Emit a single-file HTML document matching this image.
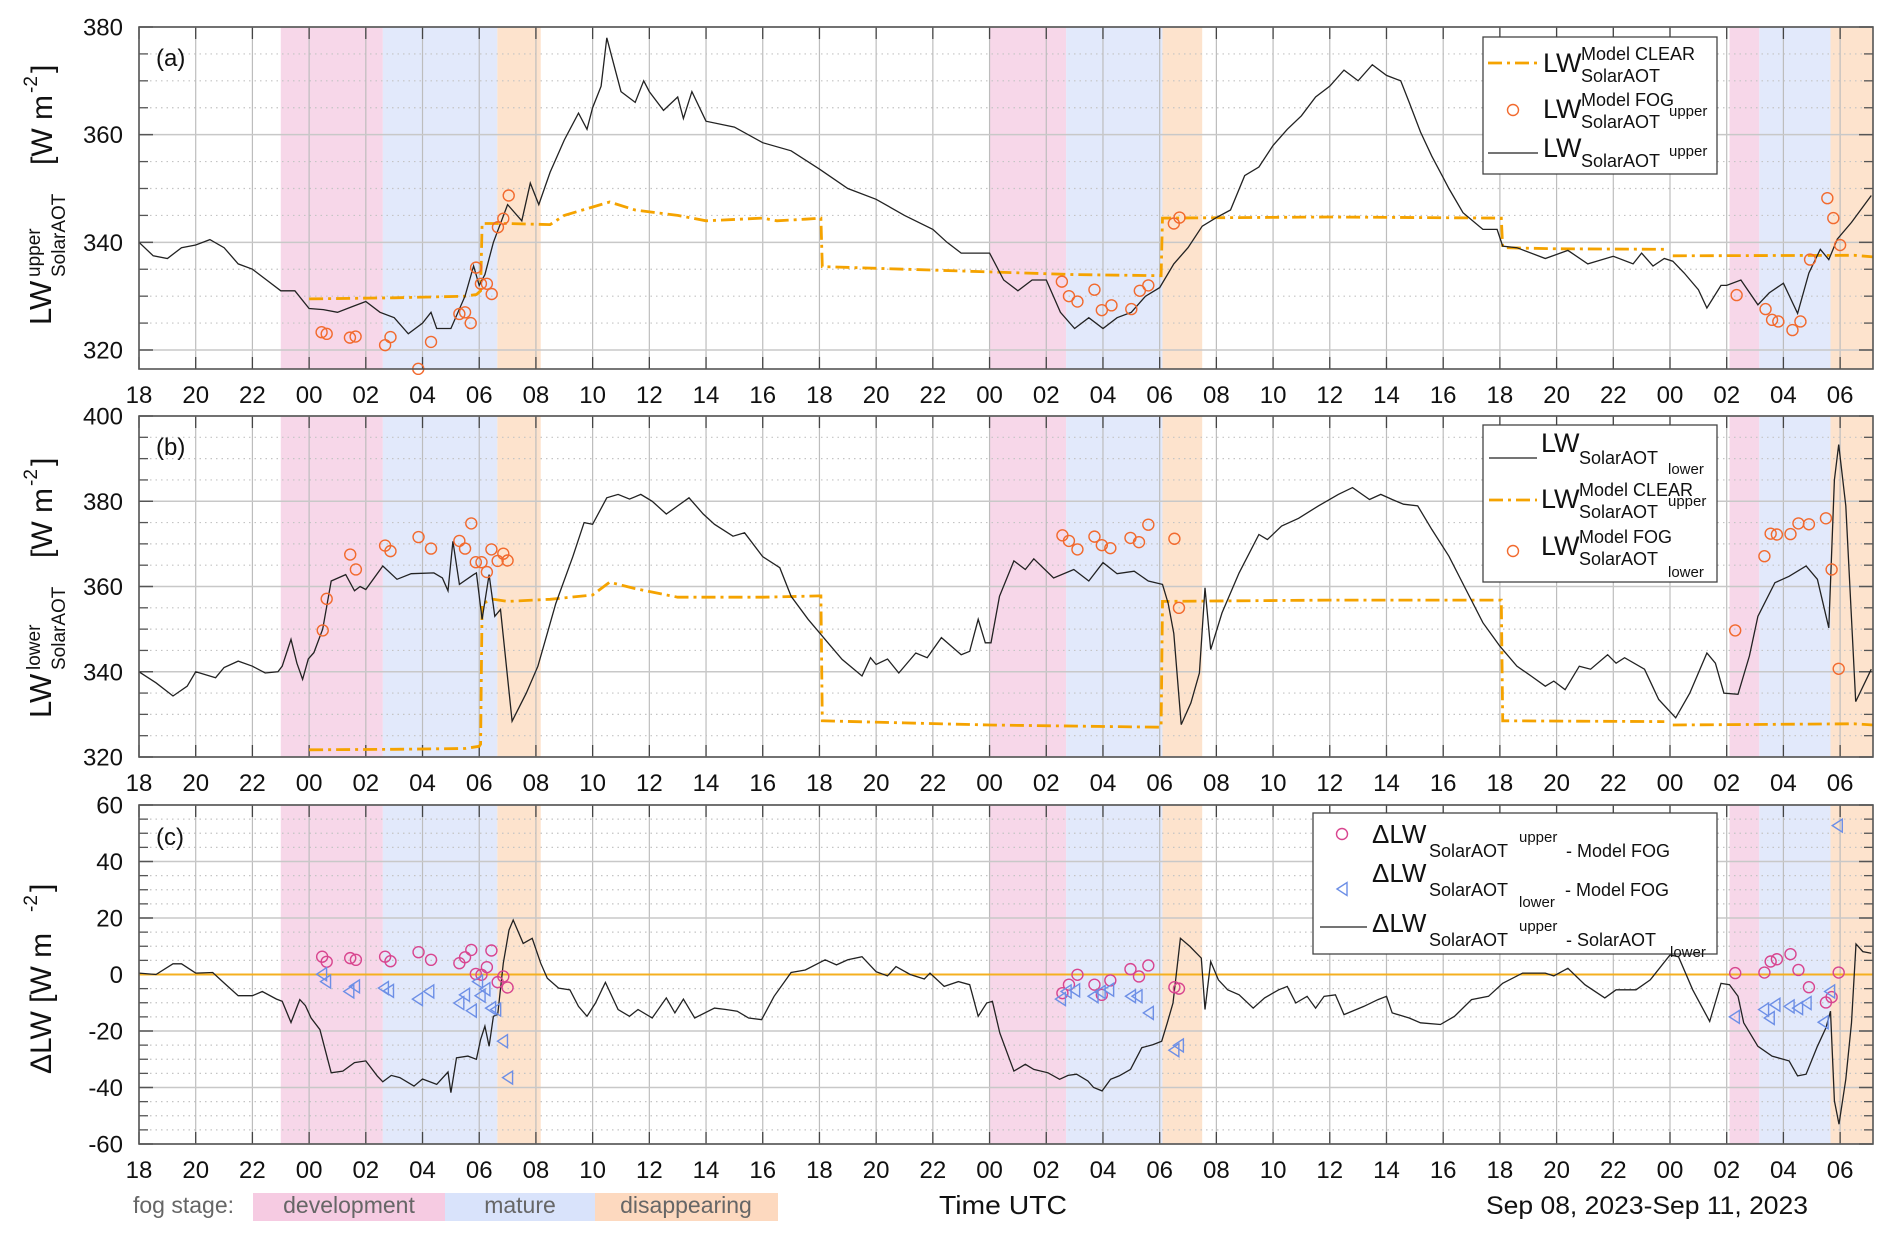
<!DOCTYPE html>
<html><head><meta charset="utf-8"><title>LW fog chart</title>
<style>
html,body{margin:0;padding:0;background:#fff;}
svg{display:block;font-family:"Liberation Sans",sans-serif;}
</style></head>
<body>
<svg id="chart" width="1892" height="1239" viewBox="0 0 1892 1239" xmlns="http://www.w3.org/2000/svg">
<rect x="0" y="0" width="1892" height="1239" fill="#fff"/>
</svg>
<script>
// ---- data (time in hours since 18:00 on Sep 08) ----
const stageStart = [5, 8.6, 12.64, 30, 32.7, 36.1, 56.1, 57.15, 59.66];
const stageEnd   = [8.6, 12.64, 14.17, 32.7, 36.1, 37.5, 57.15, 59.66, 61.16];
const stageType  = ['development','mature','disappearing','development','mature','disappearing','development','mature','disappearing'];
const xTickLabels = ['18','20','22','00','02','04','06','08','10','12','14','16','18','20','22','00','02','04','06','08','10','12','14','16','18','20','22','00','02','04','06'];

const aBlackT = [0,0.5,1,1.5,2,2.5,3,3.5,4,4.5,5,5.5,6,6.5,7,7.5,8,8.5,9,9.5,10,10.3,10.5,11,11.5,11.8,12,12.2,12.5,13,13.5,13.8,14.1,14.5,15,15.5,15.8,16,16.3,16.5,16.8,17,17.5,17.8,18,18.5,19,19.2,19.5,20,21,22,23,24,25,26,27,28,28.5,29,30,30.5,31,31.5,32,32.5,33,33.5,34,34.5,35,35.5,36,36.5,37,37.5,38,38.5,39,39.5,40,40.5,41,41.5,42,42.5,43,43.5,44,44.5,44.8,45.2,45.6,46,46.2,46.7,47.4,47.9,48.1,48.6,49.6,50.4,51.1,52,52.7,53,53.4,53.8,54.1,54.5,55,55.3,55.8,56,56.5,57.1,57.5,58,58.5,58.9,59.3,59.6,59.9,60.4,61.1];
const aBlackV = [340,337.5,337,339,339.5,340.5,339,336,335,333,331,331,327.7,327.5,327,328,329,327,326,323,325,327,324,324,330,335.6,332,334,340,347,344,351,347,353,359,364,361,365,369,378,372,368,366,370,368,364.5,367,363,368,362.5,361.4,358.5,357,353.6,350,348,345,342.4,340,338,338,333,331,333,333,327,324,326,324,326,327,330,331.6,336,339,343,344.6,346,352.4,354,358,361,363.5,367,369,372,370,373,371,370,366,360.5,356,352,350,345.5,342.4,342.4,339.3,339,337,338.5,336,337.4,336,338,335.6,337,336.5,334.3,331.2,327.8,332,332,333,328.4,330.6,332.4,326.8,334.3,338.7,336.8,340.6,343.7,348.7];
const aClearT = [6,9,11.5,11.9,12.05,12.1,13,14.5,15,16.6,17.5,19,20,22,22.5,23.5,24.05,24.1,27,30,33,36.05,36.1,42,48.05,48.1,50,53.8,53.9,54.1,60.5,61.16];
const aClearV = [329.5,329.7,330,330.3,331,343.5,343.5,343.3,345,347.5,346,345,344,344.5,344,344.3,344.5,335.5,335,334.5,334,333.8,344.5,344.7,344.5,339,338.8,338.7,NaN,337.5,337.6,337.3];
const aFogT = [6.44,6.62,7.44,7.64,8.68,8.87,9.85,10.3,11.3,11.5,11.7,11.89,12.06,12.27,12.44,12.66,12.85,13.04,32.55,32.8,33.1,33.7,33.96,34.3,35,35.3,35.6,36.5,36.7,56.35,57.37,57.6,57.82,58.32,58.6,58.94,59.55,59.76,60.0];
const aFogV = [323.3,323,322.3,322.5,320.9,322.4,316.5,321.5,326.7,327,325,335.3,332.3,332.3,330.4,342.8,344.4,348.7,332.7,330,329,331.2,327.4,328.3,327.6,331,332,343.5,344.6,330.2,327.6,325.6,325.3,323.7,325.3,336.8,348.2,344.5,339.5];

const bBlackT = [0,0.6,1.2,1.7,2,2.7,3,3.5,4,4.45,4.9,5.05,5.36,5.57,5.77,5.97,6.17,6.48,6.78,7.29,7.6,7.8,8,8.6,9.1,9.6,10.4,10.7,10.9,11.07,11.3,11.8,11.9,12.1,12.35,12.55,12.75,13.16,13.66,14.07,14.7,15.3,15.7,16,16.5,16.9,17.3,17.7,18.1,18.6,19,19.4,19.9,20.3,20.95,21.36,22,22.6,23,23.6,24.2,24.8,25.5,25.8,26,26.4,26.8,27.4,27.8,28.3,29,29.3,29.6,29.85,30.05,30.35,30.86,31.26,31.56,32.26,32.97,33.5,34,34.5,35.1,35.6,36.1,36.3,36.5,36.76,37.1,37.4,37.6,37.8,38.2,38.8,39.5,39.8,40.3,40.9,41.6,42.3,42.8,43.4,43.8,44.2,44.6,45.1,45.6,46.2,46.8,47.4,48,48.6,49.1,49.6,49.9,50.3,50.8,51.2,51.8,52.1,52.4,53.1,53.6,54.2,54.7,55.3,55.6,55.9,56.4,56.8,57.1,57.7,58.2,58.8,59.2,59.6,59.8,59.95,60.2,60.55,61.1];
const bBlackV = [340,337.4,334.3,336.6,340,338.6,341,342.5,341.3,339.7,340,341.3,347.6,342,338.2,343,344.5,350,361.3,362.8,359,360,359.3,364.8,361.7,363,363.2,362,359,370.6,360.5,362.8,363.2,352.3,362.8,353,354.6,328.4,335,341.3,356,367,375,374.6,380.8,381.6,380.5,381.6,380,377,378.9,380.8,377,374.6,371.8,372.6,367,364.4,357.7,352.3,347.6,342.9,339,343.3,341.7,343,339.7,344.4,343.3,348,344,344.8,352.3,346.8,346.8,357.7,366,364,366.5,362,364,361.3,365.6,363,363.6,361.3,360.5,356,349,327.6,332.7,339.7,359.7,345.2,353.8,363.2,372.2,371,374.2,376,378.9,381.6,383.2,380.4,381.6,380.4,379.3,378.9,373.4,367.1,359.3,351.5,346,341.3,339,336.6,337.8,335.8,341.3,340.6,344,342,343.3,340.6,333.5,329.2,335,344.4,342,335,334.7,343.7,353,360.9,362.4,364.8,361.7,350.3,385,393.3,378.9,333,340.6];
const bClearT = [6,9,11.5,12,12.05,12.1,12.5,13,14.5,16,16.6,17.5,19,22,24,24.05,24.1,27,30,36,36.05,36.1,42,48,48.05,48.1,53.8,53.9,54.1,60.5,61.16];
const bClearV = [321.7,321.8,322,322.5,323,356,357,356.5,357,358,361,359.5,357.5,357.5,357.8,357.8,328.5,328,327.5,327,327,356.5,356.8,356.8,356.8,328.5,328.3,NaN,327.5,327.8,327.5];
const bFogT = [6.48,6.62,7.45,7.65,8.68,8.87,9.86,10.3,11.3,11.5,11.72,11.88,12.08,12.27,12.43,12.65,12.85,13.0,32.57,32.8,33.1,33.7,33.96,34.26,34.97,35.27,35.6,36.52,36.68,56.3,57.33,57.55,57.77,58.25,58.53,58.9,59.5,59.7,59.95];
const bFogV = [349.7,357.1,367.5,364,369.6,368.3,371.6,368.9,370.7,368.9,374.8,365.7,365.7,363.4,368.7,366,367.7,366.1,372,370.7,368.7,371.7,369.7,369,371.4,370.4,374.5,371.2,355,349.7,367.1,372.4,372.2,372.3,374.8,374.6,376,364,340.7];

const cBlackT = [0,0.6,1.2,1.5,2,2.6,3,3.5,4,4.35,4.85,5.05,5.36,5.67,5.87,6.07,6.38,6.78,7.19,7.6,8,8.4,8.6,8.9,9.2,9.7,10,10.5,10.9,11,11.2,11.6,11.9,12.05,12.2,12.35,12.5,12.65,12.85,13.05,13.2,13.55,13.87,14.17,14.4,14.8,15.2,15.5,15.8,16.1,16.45,16.9,17.3,17.6,18.1,18.6,18.9,19.2,19.6,20.3,20.7,21.1,21.5,21.96,22.4,23,23.5,24.2,24.6,25,25.5,26,26.4,26.7,27.2,27.7,27.9,28.4,28.9,29.3,29.6,29.9,30.1,30.36,30.86,31.26,31.56,32.06,32.47,32.77,33.07,33.47,33.67,33.97,34.27,34.57,34.97,35.37,35.77,36.07,36.27,36.47,36.73,37.07,37.47,37.6,37.8,38.07,38.4,38.8,39.3,39.7,40.2,40.5,40.8,41.2,41.5,41.8,42.2,42.5,43.2,43.7,44,44.2,44.8,45.2,45.9,46.4,47,47.6,48.1,48.8,49.6,49.9,50.4,51,51.7,52.1,52.8,53.3,54,54.3,54.8,55.4,55.8,56.1,56.4,56.6,57.1,57.6,58.2,58.5,58.8,59.2,59.5,59.66,59.8,59.96,60.2,60.4,60.56,60.8,61.1];
const cBlackV = [0.5,0,3.8,3.8,0.5,0.7,-3,-7.5,-7.5,-6,-8.7,-9.5,-17,-8.9,-11,-15.4,-19.5,-34.8,-34.2,-31.2,-30.6,-35.9,-38,-35.7,-36.5,-39.5,-37,-38.9,-34.5,-41.8,-29.5,-28.9,-30,-23,-18.3,-25.4,-14.8,-14.2,4,15.7,19.3,11,12.8,4,-1.3,-4.8,-5.4,-11.3,-14.8,-10.1,-2.8,-12.4,-14.8,-12.4,-15.4,-8.3,-13.6,-8.7,-15.4,-11.9,-12.4,-13,-15.4,-16,-7.7,0.7,1.6,5.2,3.4,5.2,6.3,1,-0.5,2.8,0,-1.6,0.5,-4.2,-2.5,-3.6,-14.8,-10.1,-9.5,-20.7,-34.2,-31.8,-33.6,-34.8,-37.1,-35.7,-35.3,-37.7,-40,-41.2,-37.1,-35.9,-33.6,-25.9,-24.8,-23.6,-17.1,-10.1,12.8,9.9,5.8,-12.4,4.6,-1.9,-5.4,-7.2,-11.9,-8.3,-5.4,-4.2,-10.1,-7.7,-11.9,-7.7,-7.2,-14.2,-11.3,-8.9,-7.7,-13.6,-15.4,-17.1,-17.7,-14.8,-8.9,-7.7,-3.1,0.5,0.5,-0.5,2.2,-3.6,-8.3,-5.4,-5.4,-1.9,6.9,6.3,-5.4,-16.6,-3.1,-3.6,-7.7,-17.1,-25.4,-28.9,-30.6,-35.9,-35.3,-25.4,-18.9,-13,-44.7,-53,-37.1,-17.1,10.8,8.1,7.5];
const cUpT = [6.46,6.62,7.45,7.65,8.68,8.87,9.86,10.3,11.3,11.5,11.72,11.88,12.08,12.27,12.43,12.65,12.85,13.0,32.57,32.8,33.1,33.7,33.96,34.26,34.97,35.27,35.6,36.52,36.68,56.3,57.33,57.55,57.77,58.25,58.53,58.9,59.5,59.7,59.95];
const cUpV = [6.3,4.5,5.8,5.2,6.3,4.7,7.9,5.2,4,6.1,8.7,0.2,-0.1,2.6,8.5,-2.7,-0.7,-4.6,-6.6,-3.6,-0.1,-3.6,-7.2,-2.1,1.9,-0.7,3.2,-4.5,-5,0.5,0.7,4.6,5.4,7.2,1.6,-4.5,-9.9,-8,0.7];
const cLowT = [6.44,6.58,7.4,7.6,8.62,8.8,9.82,10.22,11.28,11.48,11.72,11.94,12.03,12.2,12.4,12.58,12.82,13.0,32.5,32.7,33,33.65,33.9,34.2,34.97,35.2,35.6,36.5,36.66,56.27,57.3,57.5,57.7,58.2,58.5,58.8,59.4,59.63,59.9];
const cLowV = [0.1,-2.5,-6,-4.2,-4.8,-5.8,-8.7,-6,-10.1,-7.2,-12.8,-2.5,-7.5,-5.2,-11.9,-12.4,-23.6,-36.5,-8.7,-6,-5.6,-7.7,-6.2,-5.4,-7.7,-7.7,-13.6,-26.8,-25.1,-15,-12.4,-15.4,-10.7,-11.3,-11.9,-10.1,-16.9,-6,52.7];

const aYTicks = [320,340,360,380];
const bYTicks = [320,340,360,380,400];
const cYTicks = [-60,-40,-20,0,20,40,60];

// ---- layout ----
const NS = 'http://www.w3.org/2000/svg';
const svg = document.getElementById('chart');
const X0 = 139, X1 = 1873, TMAX = 61.16;
function xs(t){ return X0 + t/TMAX*(X1-X0); }
function mk(tag, attrs, parent){
  const e = document.createElementNS(NS, tag);
  for (const k in attrs) e.setAttribute(k, attrs[k]);
  (parent||svg).appendChild(e); return e;
}
const stageFill = {development:'#f7d7e9', mature:'#e2e9fb', disappearing:'#fde3cd'};

function panel(id, top, bottom, vmin, vmax, yTicks, minorStep){
  const g = mk('g', {});
  
  
  const ys = v => bottom - (v - vmin)/(vmax - vmin)*(bottom - top);
  for (let i = 0; i < stageStart.length; i++){
    const r = mk('rect', {x: xs(stageStart[i]), y: top, width: xs(stageEnd[i]) - xs(stageStart[i]), height: bottom - top, fill: stageFill[stageType[i]]}, g);
    
    
  }
  for (let v = Math.ceil(vmin/minorStep)*minorStep; v <= vmax; v += minorStep){
    if (yTicks.indexOf(v) >= 0) continue;
    mk('line', {x1: X0, x2: X1, y1: ys(v), y2: ys(v), stroke: '#c4c4c4', 'stroke-width': 1.2, 'stroke-dasharray': '1.5,4'}, g);
    mk('line', {x1: X0, x2: X0+9, y1: ys(v), y2: ys(v), stroke: '#555', 'stroke-width': 1.3}, g);
    mk('line', {x1: X1-9, x2: X1, y1: ys(v), y2: ys(v), stroke: '#555', 'stroke-width': 1.3}, g);
  }
  xTickLabels.forEach((lab, i) => {
    const x = xs(i*2);
    mk('line', {x1: x, x2: x, y1: top, y2: bottom, stroke: '#bdbdbd', 'stroke-width': 1.2}, g);
    mk('line', {x1: x, x2: x, y1: top, y2: top+12, stroke: '#444', 'stroke-width': 1.3}, g);
    mk('line', {x1: x, x2: x, y1: bottom-12, y2: bottom, stroke: '#444', 'stroke-width': 1.3}, g);
    const t = mk('text', {x: x, y: bottom + 34, 'text-anchor': 'middle', 'font-size': 24, fill: '#111'}, g);
    t.textContent = lab;
    
    
  });
  yTicks.forEach(v => {
    const y = ys(v);
    mk('line', {x1: X0, x2: X1, y1: y, y2: y, stroke: '#c8c8c8', 'stroke-width': 1.5}, g);
    mk('line', {x1: X0, x2: X0+14, y1: y, y2: y, stroke: '#555', 'stroke-width': 1.5}, g);
    mk('line', {x1: X1-14, x2: X1, y1: y, y2: y, stroke: '#555', 'stroke-width': 1.5}, g);
    const t = mk('text', {x: 123, y: y + 8.5, 'text-anchor': 'end', 'font-size': 24, fill: '#111'}, g);
    t.textContent = String(v);
    
    
  });
  return {g, ys, top, bottom};
}
function linePath(P, T, V, attrs, name){
  let d = '', pen = false;
  const n = Math.min(T.length, V.length);
  for (let i = 0; i < n; i++){
    if (isNaN(V[i])) { pen = false; continue; }
    d += (pen ? 'L' : 'M') + xs(T[i]).toFixed(1) + ' ' + P.ys(V[i]).toFixed(1);
    pen = true;
  }
  attrs.d = d; attrs.fill = 'none';
  const p = mk('path', attrs, P.g);
  
  
  return p;
}
function circles(P, T, V, color, name){
  const n = Math.min(T.length, V.length);
  for (let i = 0; i < n; i++){
    const c = mk('circle', {cx: xs(T[i]), cy: P.ys(V[i]), r: 5.5, fill: 'none', stroke: color, 'stroke-width': 1.4}, P.g);
    
    
  }
}
function triangles(P, T, V, color, name){
  const n = Math.min(T.length, V.length);
  for (let i = 0; i < n; i++){
    const x = xs(T[i]), y = P.ys(V[i]);
    const p = mk('path', {d: `M${x-5} ${y}L${x+5} ${y-6.5}L${x+5} ${y+6.5}Z`, fill: 'none', stroke: color, 'stroke-width': 1.4}, P.g);
    
    
  }
}
function frame(P){
  const r = mk('rect', {x: X0, y: P.top, width: X1-X0, height: P.bottom-P.top, fill: 'none', stroke: '#555', 'stroke-width': 1.6}, P.g);
  
  
}
function txt(parent, x, y, s, size, name, extra){
  const t = mk('text', Object.assign({x: x, y: y, 'font-size': size, fill: '#111'}, extra||{}), parent);
  t.textContent = s;
  
  
  return t;
}
function legendBox(x, y, w, h, name){
  const g = mk('g', {});
  
  
  mk('rect', {x: x, y: y, width: w, height: h, fill: '#fff', stroke: '#444', 'stroke-width': 1.3}, g);
  return g;
}
const DASH = '14,5,3,5';
const ORANGE = '#f5a300';

// ---- panel a ----
const A = panel('a', 27, 369, 316.47, 380, aYTicks, 5);
linePath(A, aClearT, aClearV, {stroke: ORANGE, 'stroke-width': 2.8, 'stroke-dasharray': DASH}, 'model-clear-line');
linePath(A, aBlackT, aBlackV, {stroke: '#222', 'stroke-width': 1.3}, 'lw-upper-line');
circles(A, aFogT, aFogV, '#f26a2e', 'model-fog-marker');
frame(A);
txt(A.g, 156, 66, '(a)', 24, 'panel-label-a');
{
  const g = legendBox(1483, 37, 234, 137, 'legend-a');
  mk('line', {x1: 1488, x2: 1538, y1: 63, y2: 63, stroke: ORANGE, 'stroke-width': 2.8, 'stroke-dasharray': DASH}, g);
  txt(g, 1543, 72, 'LW', 27, 'legend-text'); txt(g, 1581, 60, 'Model CLEAR', 18, 'legend-text'); txt(g, 1581, 82, 'SolarAOT', 18, 'legend-text');
  mk('circle', {cx: 1513, cy: 110, r: 5.5, fill: 'none', stroke: '#f26a2e', 'stroke-width': 1.4}, g);
  txt(g, 1543, 118, 'LW', 27, 'legend-text'); txt(g, 1581, 106, 'Model FOG', 18, 'legend-text'); txt(g, 1581, 128, 'SolarAOT', 18, 'legend-text'); txt(g, 1669, 116, 'upper', 15, 'legend-text');
  mk('line', {x1: 1488, x2: 1538, y1: 153, y2: 153, stroke: '#222', 'stroke-width': 1.3}, g);
  txt(g, 1543, 157, 'LW', 27, 'legend-text'); txt(g, 1581, 167, 'SolarAOT', 18, 'legend-text'); txt(g, 1669, 156, 'upper', 15, 'legend-text');
}

// ---- panel b ----
const B = panel('b', 416, 757, 320, 400, bYTicks, 5);
linePath(B, bClearT, bClearV, {stroke: ORANGE, 'stroke-width': 2.8, 'stroke-dasharray': DASH}, 'model-clear-line');
linePath(B, bBlackT, bBlackV, {stroke: '#222', 'stroke-width': 1.3}, 'lw-lower-line');
circles(B, bFogT, bFogV, '#f26a2e', 'model-fog-marker');
frame(B);
txt(B.g, 156, 455, '(b)', 24, 'panel-label-b');
{
  const g = legendBox(1483, 425, 234, 157, 'legend-b');
  mk('line', {x1: 1489, x2: 1537, y1: 458, y2: 458, stroke: '#222', 'stroke-width': 1.3}, g);
  txt(g, 1541, 452, 'LW', 27, 'legend-text'); txt(g, 1579, 464, 'SolarAOT', 18, 'legend-text'); txt(g, 1668, 474, 'lower', 15, 'legend-text');
  mk('line', {x1: 1489, x2: 1537, y1: 500, y2: 500, stroke: ORANGE, 'stroke-width': 2.8, 'stroke-dasharray': DASH}, g);
  txt(g, 1541, 508, 'LW', 27, 'legend-text'); txt(g, 1579, 496, 'Model CLEAR', 18, 'legend-text'); txt(g, 1579, 518, 'SolarAOT', 18, 'legend-text'); txt(g, 1668, 506, 'upper', 15, 'legend-text');
  mk('circle', {cx: 1513, cy: 551, r: 5.5, fill: 'none', stroke: '#f26a2e', 'stroke-width': 1.4}, g);
  txt(g, 1541, 555, 'LW', 27, 'legend-text'); txt(g, 1579, 543, 'Model FOG', 18, 'legend-text'); txt(g, 1579, 565, 'SolarAOT', 18, 'legend-text'); txt(g, 1668, 577, 'lower', 15, 'legend-text');
}

// ---- panel c ----
const C = panel('c', 805, 1144, -60, 60, cYTicks, 5);
{
  const z = mk('line', {x1: X0, x2: X1, y1: C.ys(0), y2: C.ys(0), stroke: '#f5b020', 'stroke-width': 2}, C.g);
  
  
}
linePath(C, cBlackT, cBlackV, {stroke: '#222', 'stroke-width': 1.3}, 'delta-upper-lower-line');
circles(C, cUpT, cUpV, '#d8458f', 'delta-upper-fog-marker');
triangles(C, cLowT, cLowV, '#6d8fe6', 'delta-lower-fog-marker');
frame(C);
txt(C.g, 156, 845, '(c)', 24, 'panel-label-c');
{
  const g = legendBox(1313, 813, 404, 141, 'legend-c');
  mk('circle', {cx: 1342, cy: 834, r: 5.5, fill: 'none', stroke: '#d8458f', 'stroke-width': 1.4}, g);
  txt(g, 1372, 843, 'ΔLW', 26, 'legend-text'); txt(g, 1429, 857, 'SolarAOT', 18, 'legend-text'); txt(g, 1519, 842, 'upper', 15, 'legend-text'); txt(g, 1566, 857, '- Model FOG', 18, 'legend-text');
  mk('path', {d: 'M1337 889L1347 882.5L1347 895.5Z', fill: 'none', stroke: '#6d8fe6', 'stroke-width': 1.4}, g);
  txt(g, 1372, 882, 'ΔLW', 26, 'legend-text'); txt(g, 1429, 896, 'SolarAOT', 18, 'legend-text'); txt(g, 1519, 907, 'lower', 15, 'legend-text'); txt(g, 1565, 896, '- Model FOG', 18, 'legend-text');
  mk('line', {x1: 1320, x2: 1367, y1: 927, y2: 927, stroke: '#222', 'stroke-width': 1.3}, g);
  txt(g, 1372, 932, 'ΔLW', 26, 'legend-text'); txt(g, 1429, 946, 'SolarAOT', 18, 'legend-text'); txt(g, 1519, 931, 'upper', 15, 'legend-text'); txt(g, 1566, 946, '- SolarAOT', 18, 'legend-text'); txt(g, 1670, 957, 'lower', 15, 'legend-text');
}

// ---- y-axis titles ----
function ytitle(x, y, parts, name){
  const g = mk('g', {transform: `translate(${x},${y}) rotate(-90)`});
  
  
  parts.forEach(p => txt(g, p[0], p[1], p[2], p[3], 'y-axis-title-part'));
}
ytitle(51, 325, [[0,0,'LW',31],[48,-11,'upper',19],[48,14,'SolarAOT',19],[160,1,'[W m',30],[232,-14,'-2',19],[252,1,']',30]], 'y-axis-title-a');
ytitle(51, 718, [[0,0,'LW',31],[48,-11,'lower',19],[48,14,'SolarAOT',19],[160,1,'[W m',30],[232,-14,'-2',19],[252,1,']',30]], 'y-axis-title-b');
ytitle(51, 1074, [[0,0,'ΔLW [W m',30],[162,-14,'-2',19],[182,0,']',30]], 'y-axis-title-c');

// ---- bottom legend & labels ----
{
  const g = mk('g', {});
  
  
  txt(g, 133, 1213, 'fog stage:', 23, 'fog-stage-label', {fill: '#666'});
  mk('rect', {x: 253, y: 1193, width: 192, height: 28, fill: '#f6cbe2'}, g);
  mk('rect', {x: 445, y: 1193, width: 150, height: 28, fill: '#d9e3fb'}, g);
  mk('rect', {x: 595, y: 1193, width: 183, height: 28, fill: '#fdd9bf'}, g);
  txt(g, 349, 1213, 'development', 23, 'legend-development', {fill: '#666', 'text-anchor': 'middle'});
  txt(g, 520, 1213, 'mature', 23, 'legend-mature', {fill: '#666', 'text-anchor': 'middle'});
  txt(g, 686, 1213, 'disappearing', 23, 'legend-disappearing', {fill: '#666', 'text-anchor': 'middle'});
}
txt(svg, 939, 1214, 'Time UTC', 26, 'x-axis-title', {textLength: 128, lengthAdjust: 'spacingAndGlyphs'});
txt(svg, 1486, 1214, 'Sep 08, 2023-Sep 11, 2023', 25, 'date-range-label', {textLength: 322, lengthAdjust: 'spacingAndGlyphs'});
</script>
</body></html>
